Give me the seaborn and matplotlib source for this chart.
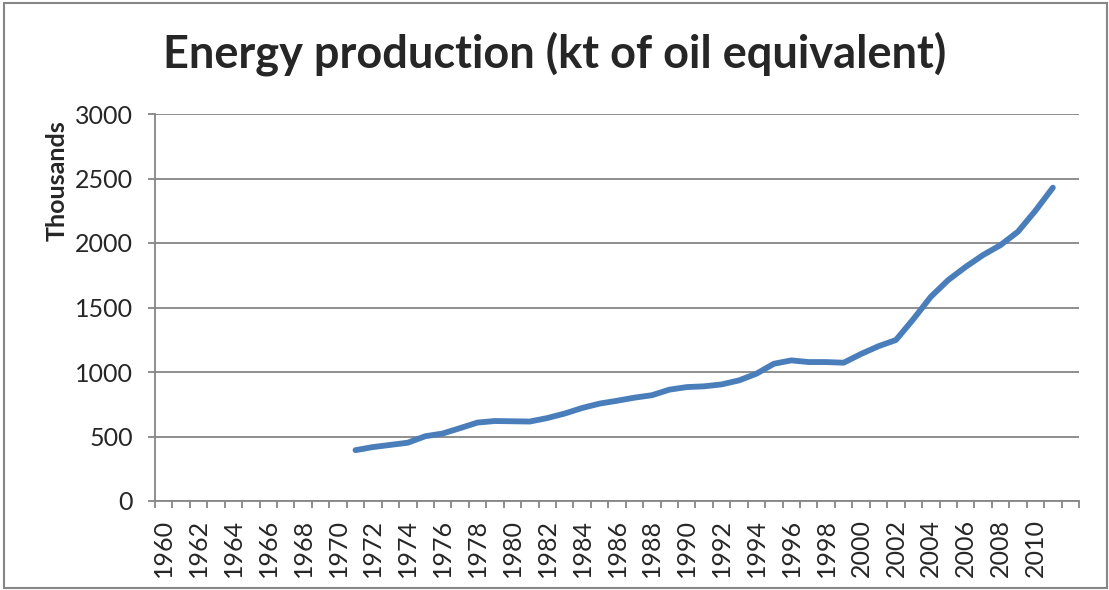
import numpy as np
import pandas as pd
import matplotlib
matplotlib.use('Agg')
import matplotlib.pyplot as plt
import seaborn as sns
from matplotlib.patches import Rectangle
from matplotlib.ticker import MultipleLocator

# values (thousands of kt of oil equivalent)
years = list(range(1971, 2012))
production = [394, 418, 435, 452, 502, 523, 565, 608, 620, 618,
              616, 643, 678, 721, 755, 777, 801, 820, 863, 883,
              889, 904, 935, 987, 1064, 1090, 1077, 1077, 1072, 1140,
              1200, 1248, 1410, 1583, 1713, 1815, 1907, 1984, 2088, 2250,
              2429]
first_year = 1960
last_year = 2012
label_years = list(range(1960, 2011, 2))

df = pd.DataFrame({'year': years, 'production': production})

sns.set_theme(style='white')
plt.rcParams['font.family'] = ['Lato', 'DejaVu Sans']

grey = '#868686'
fig = plt.figure(figsize=(11.09, 5.90), dpi=100)
ax = fig.add_axes([155 / 1109, 1 - 501 / 590, (1079 - 155) / 1109, (501 - 114) / 590])

sns.lineplot(data=df, x='year', y='production', ax=ax, color='#4A7EBB',
             linewidth=4.2, solid_capstyle='round', solid_joinstyle='round')

ax.set_xlim(first_year - 0.5, last_year + 0.5)
ax.set_ylim(0, 3000)
ax.yaxis.set_major_locator(MultipleLocator(500))
ax.grid(axis='y', color=grey, linewidth=1.3)
ax.set_axisbelow(True)

ax.set_xticks(label_years)
ax.set_xticklabels([str(y) for y in label_years], rotation=90)
ax.set_xticks(np.arange(first_year - 0.5, last_year + 1), minor=True)
ax.tick_params(axis='x', which='major', length=0, pad=13, labelsize=18)
ax.tick_params(axis='x', which='minor', length=5, width=1.3, color=grey,
               bottom=True, direction='out')
ax.tick_params(axis='y', which='major', length=5, width=1.3, color=grey,
               left=True, direction='out', pad=11, labelsize=18)

for side in ['top', 'right']:
    ax.spines[side].set_visible(False)
for side in ['left', 'bottom']:
    ax.spines[side].set_color(grey)
    ax.spines[side].set_linewidth(1.3)

ax.set_xlabel('')
ax.set_ylabel('')
fig.text(57 / 1109, 1 - 181 / 590, 'Thousands', rotation=90, fontsize=18,
         fontweight='bold', ha='center', va='center')
fig.text(555 / 1109, 1 - 68 / 590, 'Energy production (kt of oil equivalent)',
         fontsize=32.5, fontweight='bold', ha='center', va='baseline')

fig.patches.append(Rectangle((4 / 1109, 1 - 588 / 590), 1103 / 1109, 585 / 590,
                             transform=fig.transFigure, fill=False,
                             edgecolor=grey, linewidth=1.5))

fig.savefig('out.png', dpi=100)
